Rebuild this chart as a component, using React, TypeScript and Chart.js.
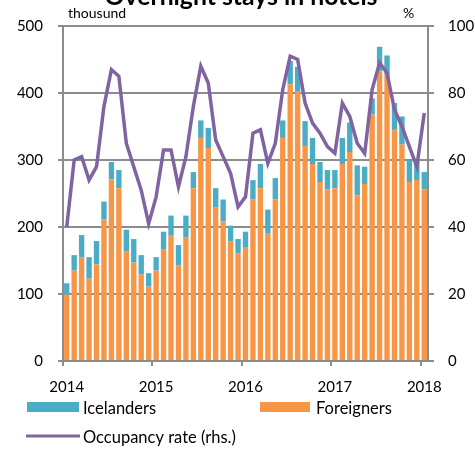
import React, { useEffect, useRef } from "react";
import { Chart, registerables } from "chart.js";

Chart.register(...registerables);

const months: string[] = [
  "Jan 2014","Feb 2014","Mar 2014","Apr 2014","May 2014","Jun 2014","Jul 2014","Aug 2014","Sep 2014","Oct 2014","Nov 2014","Dec 2014",
  "Jan 2015","Feb 2015","Mar 2015","Apr 2015","May 2015","Jun 2015","Jul 2015","Aug 2015","Sep 2015","Oct 2015","Nov 2015","Dec 2015",
  "Jan 2016","Feb 2016","Mar 2016","Apr 2016","May 2016","Jun 2016","Jul 2016","Aug 2016","Sep 2016","Oct 2016","Nov 2016","Dec 2016",
  "Jan 2017","Feb 2017","Mar 2017","Apr 2017","May 2017","Jun 2017","Jul 2017","Aug 2017","Sep 2017","Oct 2017","Nov 2017","Dec 2017",
  "Jan 2018",
];

// thousand overnight stays
const foreigners: number[] = [
  99, 135, 155, 123, 144, 211, 271, 258, 164, 147, 129, 111,
  135, 167, 188, 143, 185, 258, 333, 318, 229, 208, 179, 161,
  169, 241, 258, 191, 241, 333, 413, 403, 321, 294, 267, 256,
  258, 294, 312, 247, 264, 368, 432, 427, 345, 323, 267, 270,
  256,
];

const icelanders: number[] = [
  17, 23, 33, 32, 35, 27, 26, 27, 32, 35, 29, 20,
  20, 26, 29, 30, 32, 24, 26, 30, 29, 33, 23, 21,
  24, 29, 36, 35, 32, 26, 35, 36, 37, 39, 30, 29,
  27, 39, 44, 45, 26, 24, 37, 29, 40, 42, 33, 29,
  26,
];

// occupancy rate, % (right axis)
const occupancy: number[] = [
  40, 60, 61, 54, 58, 76, 87, 85, 65, 58, 51, 41,
  49, 63, 63, 52, 61, 76, 88, 83, 66, 61, 56, 46,
  49, 68, 69, 59, 65, 81, 91, 90, 77, 71, 68, 64,
  62, 77, 73, 65, 62, 81, 89, 86, 75, 70, 64, 58,
  74,
];

const yearLabels: string[] = ["2014", "2015", "2016", "2017", "2018"];

const titleText = "Overnight stays in hotels";
const leftUnit = "thousund";
const rightUnit = "%";
const legendLabels = ["Icelanders", "Foreigners", "Occupancy rate (rhs.)"];

const BLUE = "#4bacc6";
const ORANGE = "#f79646";
const PURPLE = "#8064a2";
const GRID = "#8c8c8c";
const FONT = "Lato, 'Open Sans', sans-serif";

const decorPlugin = {
  id: "decor",
  afterDraw(chart: any) {
    const ctx = chart.ctx as CanvasRenderingContext2D;
    ctx.save();
    // title (partly cut at top), sized to span about 273px
    ctx.fillStyle = "#000";
    ctx.font = `bold 20px ${FONT}`;
    const w = ctx.measureText(titleText).width || 250;
    const size = Math.max(16, Math.min(28, (20 * 273) / w));
    ctx.font = `bold ${size}px ${FONT}`;
    ctx.textAlign = "center";
    ctx.textBaseline = "alphabetic";
    ctx.fillText(titleText, 241, 5);
    // unit labels
    ctx.font = `14px ${FONT}`;
    ctx.textAlign = "left";
    ctx.fillText(leftUnit, 68, 18);
    ctx.fillText(rightUnit, 403, 18);
    // legend
    ctx.font = `16.5px ${FONT}`;
    ctx.textBaseline = "middle";
    ctx.fillStyle = BLUE;
    ctx.fillRect(27, 402, 52, 10);
    ctx.fillStyle = ORANGE;
    ctx.fillRect(260, 402, 50, 10);
    ctx.strokeStyle = PURPLE;
    ctx.lineWidth = 3;
    ctx.beginPath();
    ctx.moveTo(26, 436);
    ctx.lineTo(80, 436);
    ctx.stroke();
    ctx.fillStyle = "#000";
    ctx.fillText(legendLabels[0], 83, 409);
    ctx.fillText(legendLabels[1], 316, 409);
    ctx.fillText(legendLabels[2], 83, 438);
    ctx.restore();
  },
};

export default function App() {
  const ref = useRef<HTMLCanvasElement | null>(null);

  useEffect(() => {
    document.body.style.margin = "0";
    const canvas = ref.current;
    if (!canvas) return;
    const chart = new Chart(canvas, {
      type: "bar",
      data: {
        labels: months,
        datasets: [
          {
            type: "line",
            label: legendLabels[2],
            data: occupancy,
            yAxisID: "y1",
            borderColor: PURPLE,
            backgroundColor: PURPLE,
            borderWidth: 3.5,
            pointRadius: 0,
            tension: 0,
            order: 0,
          } as any,
          {
            label: legendLabels[1],
            data: foreigners,
            backgroundColor: ORANGE,
            yAxisID: "y",
            stack: "s",
            order: 1,
            categoryPercentage: 1,
            barPercentage: 0.72,
          },
          {
            label: legendLabels[0],
            data: icelanders,
            backgroundColor: BLUE,
            yAxisID: "y",
            stack: "s",
            order: 2,
            categoryPercentage: 1,
            barPercentage: 0.72,
          },
        ],
      },
      options: {
        responsive: false,
        animation: false,
        layout: { padding: { top: 26, left: 0, right: 0, bottom: 0 } },
        plugins: {
          legend: { display: false },
          tooltip: { enabled: false },
          title: { display: false },
        },
        scales: {
          x: {
            type: "category",
            position: "bottom",
            stacked: true,
            offset: true,
            grid: {
              offset: true,
              drawOnChartArea: false,
              drawTicks: true,
              tickLength: 5,
              lineWidth: 2,
              color: (c: any) =>
                c.index !== undefined && c.index % 12 === 0 ? GRID : "rgba(0,0,0,0)",
            },
            border: { display: true, color: GRID, width: 2 },
            afterFit: (scale: any) => {
              scale.height = 88;
            },
            ticks: {
              autoSkip: false,
              maxRotation: 0,
              minRotation: 0,
              padding: 12,
              color: "#000",
              font: { family: FONT, size: 15 },
              callback: (_v: any, i: number) => (i % 12 === 0 ? yearLabels[i / 12] : ""),
            },
          },
          y: {
            position: "left",
            stacked: true,
            min: 0,
            max: 500,
            grid: { color: GRID, lineWidth: 2, tickLength: 5 },
            border: { display: true, color: GRID, width: 2 },
            afterFit: (scale: any) => {
              scale.width = 63;
            },
            ticks: {
              stepSize: 100,
              padding: 15,
              color: "#000",
              font: { family: FONT, size: 15 },
            },
          },
          y1: {
            position: "right",
            min: 0,
            max: 100,
            grid: { drawOnChartArea: false, color: GRID, lineWidth: 2, tickLength: 6 },
            border: { display: true, color: GRID, width: 2 },
            afterFit: (scale: any) => {
              scale.width = 47;
            },
            ticks: {
              stepSize: 20,
              padding: 14,
              color: "#000",
              font: { family: FONT, size: 15 },
            },
          },
        },
      },
      plugins: [decorPlugin],
    } as any);
    return () => chart.destroy();
  }, []);

  return (
    <div style={{ position: "fixed", left: 0, top: 0, width: 475, height: 449 }}>
      <canvas ref={ref} width={475} height={449} />
    </div>
  );
}
